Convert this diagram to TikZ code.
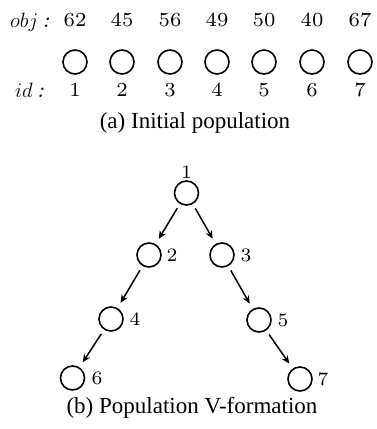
\documentclass[tikz,border=0pt]{standalone}
\usepackage{fontspec}
\setmainfont{lmroman7-regular.otf}[ItalicFont=lmroman7-italic.otf]
\newfontfamily\capfont{Liberation Serif}
\usetikzlibrary{arrows.meta}
\begin{document}
\begin{tikzpicture}[x=1pt,y=-1pt,
  circ/.style={draw,circle,line width=1.6pt,minimum size=24pt,inner sep=0pt},
  lab/.style={font=\fontsize{20}{24}\selectfont,inner sep=0pt},
  rowlab/.style={font=\fontsize{22}{24}\selectfont,inner sep=0pt},
  tlab/.style={font=\fontsize{19}{22}\selectfont,inner sep=0pt},
  captext/.style={font=\capfont\fontsize{23}{26}\selectfont,inner sep=0pt},
  arr/.style={-{Stealth[length=8pt,width=7pt]},line width=1.5pt,shorten >=6pt,shorten <=5pt}]
\useasboundingbox (0,0) rectangle (377,429);
% (a)
\node[rowlab,anchor=base west] (objl) at (10,27) {$obj$\,\textit{:}};
\node[rowlab,anchor=base west] (idl) at (15,97) {$id$\,\textit{:}};
\foreach \i/\x/\v in {1/75/62,2/122/45,3/170/56,4/217/49,5/264/50,6/312/40,7/360/67}{
  \node[lab] (v\i) at (\x,20) {\v};
  \node[circ] (p\i) at (\x,62) {};
  \node[lab] (id\i) at (\x,90) {\i};
}
\node[captext] (capa) at (195,123) {(a) Initial population};
% (b)
\node[circ] (n1) at (186.5,193) {};
\node[circ] (n2) at (149,255) {};
\node[circ] (n3) at (222,255) {};
\node[circ] (n4) at (111,319) {};
\node[circ] (n5) at (259,320) {};
\node[circ] (n6) at (72.5,378) {};
\node[circ] (n7) at (300,379) {};
\node[tlab] (l1) at (186.5,172) {1};
\node[tlab] (l2) at (172,255) {2};
\node[tlab] (l3) at (246,255) {3};
\node[tlab] (l4) at (135,319) {4};
\node[tlab] (l5) at (283,320) {5};
\node[tlab] (l6) at (97,378) {6};
\node[tlab] (l7) at (323,379) {7};
\draw[arr] (n1) -- (n2);
\draw[arr] (n1) -- (n3);
\draw[arr] (n2) -- (n4);
\draw[arr] (n3) -- (n5);
\draw[arr] (n4) -- (n6);
\draw[arr] (n5) -- (n7);
\node[captext] (capb) at (192,408) {(b) Population V-formation};
\end{tikzpicture}
\end{document}
